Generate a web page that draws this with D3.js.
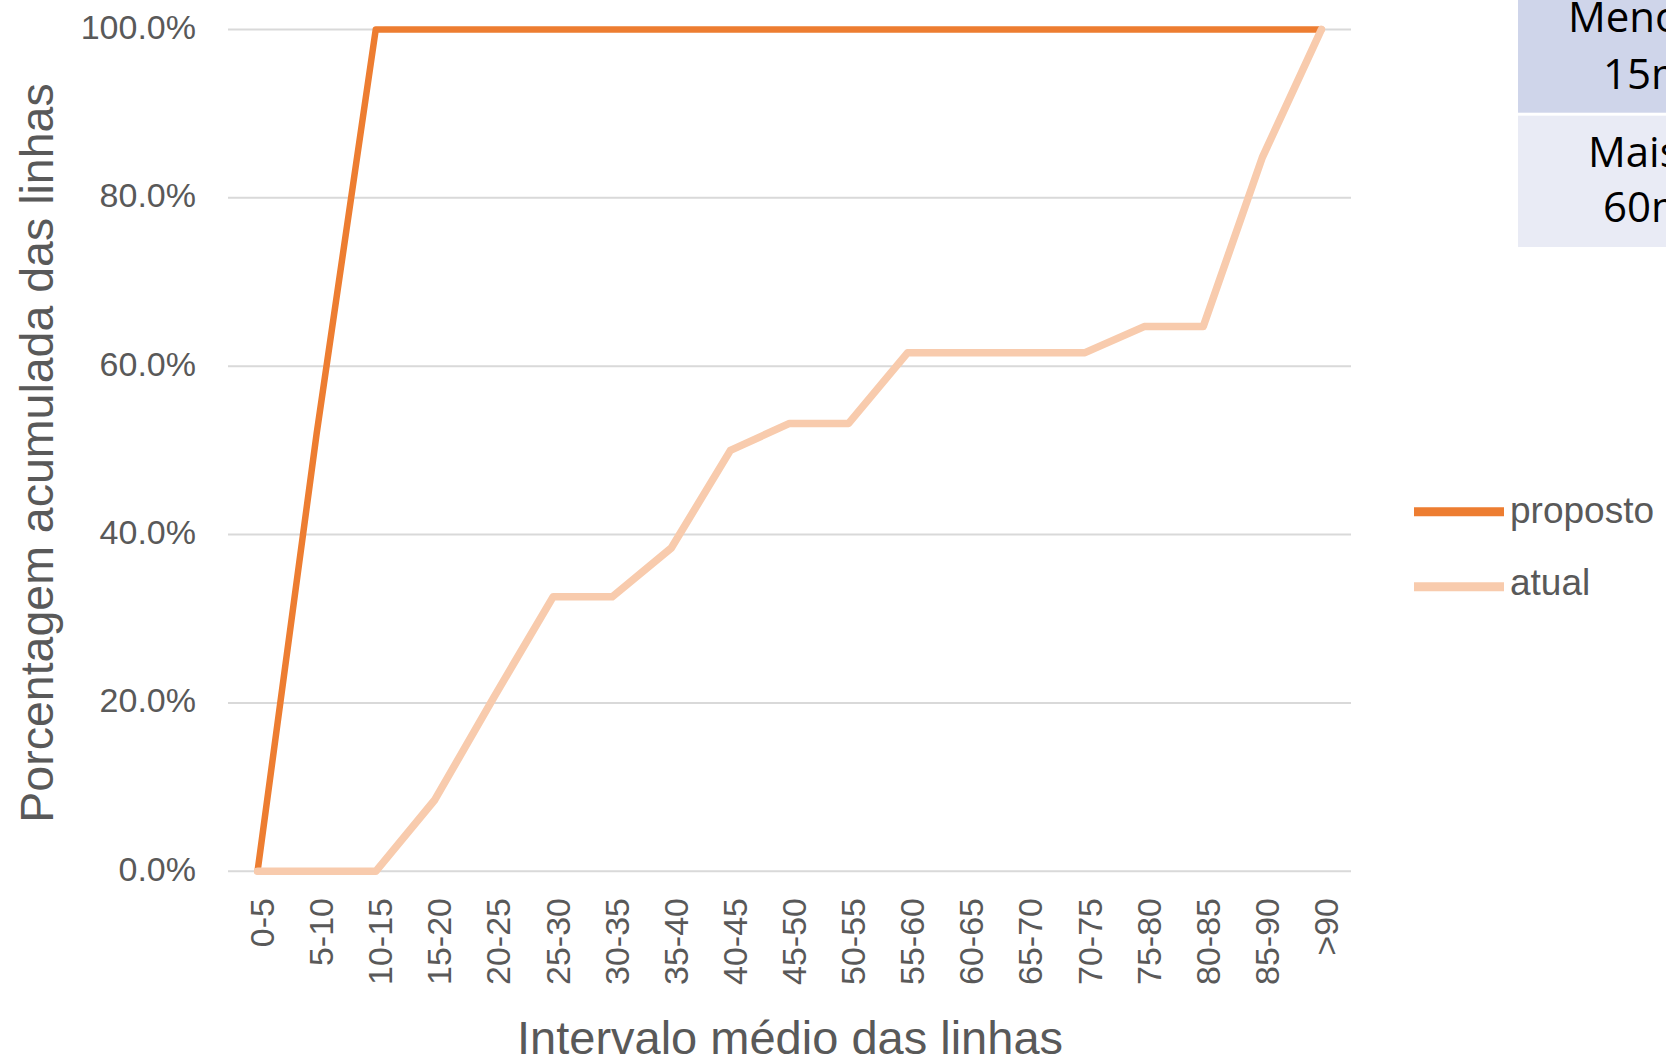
<!DOCTYPE html>
<html>
<head>
<meta charset="utf-8">
<script src="https://cdn.jsdelivr.net/npm/d3@7"></script>
<style>
  html, body { margin: 0; padding: 0; background: #ffffff; overflow: hidden; }
  svg { display: block; }
</style>
</head>
<body>
<script>
const categories = ["0-5","5-10","10-15","15-20","20-25","25-30","30-35","35-40","40-45","45-50","50-55","55-60","60-65","65-70","70-75","75-80","80-85","85-90",">90"];
const proposto = [0, 52, 100, 100, 100, 100, 100, 100, 100, 100, 100, 100, 100, 100, 100, 100, 100, 100, 100];
const atual = [0, 0, 0, 8.5, 20.7, 32.6, 32.6, 38.4, 50, 53.2, 53.2, 61.6, 61.6, 61.6, 61.6, 64.7, 64.7, 84.8, 100];
const yTicks = [0, 20, 40, 60, 80, 100];
const seriesNames = ["proposto", "atual"];
const tableRows = [["Menos de", "15min"], ["Mais de", "60min"]];
const xTitle = "Intervalo médio das linhas";
const yTitle = "Porcentagem acumulada das linhas";

const W = 1666, H = 1059;
const colors = {proposto: "#ED7D31", atual: "#F8CBAD"};
const textGray = "#595959";
const font = "'Liberation Sans', Arial, sans-serif";

const svg = d3.select("body").append("svg").attr("width", W).attr("height", H);

const x = d3.scalePoint().domain(categories).range([228, 1351]).padding(0.5);
const y = d3.scaleLinear().domain([0, 100]).range([871.3, 29.4]);

// gridlines
svg.append("g").selectAll("line").data(yTicks).join("line")
  .attr("x1", 228).attr("x2", 1351)
  .attr("y1", d => y(d)).attr("y2", d => y(d))
  .attr("stroke", "#D9D9D9").attr("stroke-width", 2);

// y axis labels
const yAxis = d3.axisLeft(y).tickValues(yTicks).tickSize(0).tickPadding(0)
  .tickFormat(d => d.toFixed(1) + "%");
const yg = svg.append("g").attr("transform", "translate(196,0)").call(yAxis);
yg.select(".domain").remove();
yg.selectAll("text").attr("font-family", font).attr("font-size", 34)
  .attr("fill", textGray).attr("dy", "0.26em").attr("x", 0);

// x axis labels
const xAxis = d3.axisBottom(x).tickSize(0).tickPadding(0);
const xg = svg.append("g").attr("transform", "translate(0,898)").call(xAxis);
xg.select(".domain").remove();
xg.selectAll("text")
  .attr("font-family", font).attr("font-size", 34).attr("fill", textGray)
  .attr("text-anchor", "end").attr("x", 0).attr("y", 0)
  .attr("dy", "0.47em")
  .attr("transform", "rotate(-90)");

// lines
const line = d3.line().x((d, i) => x(categories[i])).y(d => y(d));
svg.append("path").datum(proposto).attr("d", line)
  .attr("fill", "none").attr("stroke", colors.proposto).attr("stroke-width", 6.5)
  .attr("stroke-linejoin", "round").attr("stroke-linecap", "round");
svg.append("path").datum(atual).attr("d", line)
  .attr("fill", "none").attr("stroke", colors.atual).attr("stroke-width", 7.5)
  .attr("stroke-linejoin", "round").attr("stroke-linecap", "round");

// axis titles
svg.append("text").attr("x", 790).attr("y", 1054)
  .attr("text-anchor", "middle").attr("font-family", font).attr("font-size", 47)
  .attr("fill", textGray).text(xTitle);
svg.append("text").attr("transform", "translate(53,453) rotate(-90)")
  .attr("text-anchor", "middle").attr("font-family", font).attr("font-size", 46.5)
  .attr("fill", textGray).text(yTitle);

// legend
const legY = [511.7, 586.7];
const legBase = [523.3, 595];
const leg = svg.append("g");
seriesNames.forEach((name, i) => {
  leg.append("line").attr("x1", 1414).attr("x2", 1504)
    .attr("y1", legY[i]).attr("y2", legY[i])
    .attr("stroke", colors[name]).attr("stroke-width", 9);
  leg.append("text").attr("x", 1510).attr("y", legBase[i])
    .attr("font-family", font).attr("font-size", 37).attr("fill", textGray)
    .text(name);
});

// table (partially visible at top right)
const cells = [{y0: 0, y1: 112.7, fill: "#CFD5EA", xs: [1568, 1603], bs: [32, 89]},
               {y0: 115.7, y1: 247, fill: "#E9EBF5", xs: [1588, 1603], bs: [167, 222]}];
const tg = svg.append("g");
tableRows.forEach((row, i) => {
  const c = cells[i];
  tg.append("rect").attr("x", 1518).attr("y", c.y0).attr("width", W - 1518 + 200)
    .attr("height", c.y1 - c.y0).attr("fill", c.fill);
  row.forEach((t, j) => {
    tg.append("text").attr("x", c.xs[j]).attr("y", c.bs[j])
      .attr("font-family", "'Open Sans', sans-serif").attr("font-size", 42)
      .attr("fill", "#000").text(t);
  });
});
</script>
</body>
</html>
